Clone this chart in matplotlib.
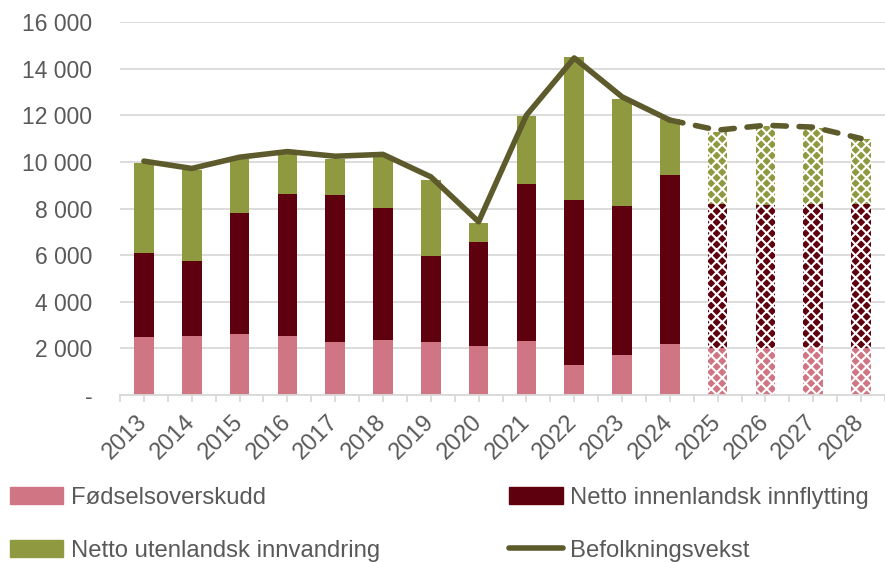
import numpy as np
import matplotlib
matplotlib.use("Agg")
import matplotlib.pyplot as plt
from matplotlib.patches import Patch
from matplotlib.lines import Line2D

plt.rcParams['font.family'] = ['Liberation Sans', 'DejaVu Sans']
plt.rcParams['hatch.linewidth'] = 1.5

years = [str(y) for y in range(2013, 2029)]
# stacked components (persons)
fodselsoverskudd = [2500, 2545, 2600, 2545, 2260, 2360, 2290, 2100,
                    2317, 1290, 1716, 2200, 2030, 2030, 2070, 2030]
innenlandsk = [3590, 3190, 5220, 6095, 6335, 5650, 3690, 4480,
               6750, 7080, 6380, 7240, 6190, 6120, 6125, 6190]
utenlandsk = [3850, 3915, 2330, 1730, 1555, 2190, 3245, 800,
              2917, 6130, 4600, 2390, 3075, 3390, 3275, 2750]
befolkningsvekst = [10040, 9725, 10210, 10450, 10250, 10330, 9367, 7437,
                    12010, 14470, 12800, 11800, 11370, 11580, 11500, 11010]
n_hist = 12  # 2013-2024 faktiske tall, 2025-2028 framskriving

c_pink = '#CF7583'
c_dark = '#5E000E'
c_green = '#8F9A40'
c_line = '#5D5A2C'
c_text = '#595959'

fig = plt.figure(figsize=(8.85, 5.62), dpi=100)
ax = fig.add_axes([0.1356, 0.2972, 0.8644, 0.6631])

x = np.arange(len(years))
w = 0.41
bottom = np.zeros(len(years))
for vals, col in [(fodselsoverskudd, c_pink), (innenlandsk, c_dark), (utenlandsk, c_green)]:
    vals = np.array(vals, dtype=float)
    ax.bar(x[:n_hist], vals[:n_hist], w, bottom=bottom[:n_hist], color=col, linewidth=0, zorder=2)
    ax.bar(x[n_hist:], vals[n_hist:], w, bottom=bottom[n_hist:], facecolor=col,
           edgecolor='white', hatch='xxx', linewidth=0, zorder=2)
    bottom += vals

ax.plot(x[:n_hist], befolkningsvekst[:n_hist], color=c_line, lw=4,
        solid_joinstyle='round', solid_capstyle='round', zorder=3)
ax.plot(x[n_hist - 1:], befolkningsvekst[n_hist - 1:], color=c_line, lw=4,
        linestyle=(0, (2.4, 2.3)), dash_capstyle='round', zorder=3)

ax.set_xlim(-0.5, len(years) - 0.5)
ax.set_ylim(0, 16000)
yt = np.arange(0, 16001, 2000)
ax.set_yticks(yt)
ax.set_yticklabels(['-'] + [f"{v:,}".replace(',', ' ') for v in yt[1:]])
ax.yaxis.grid(True, color='#D9D9D9', lw=1.3, zorder=0)
ax.set_axisbelow(True)

ax.set_xticks(np.arange(-0.5, len(years), 1.0))
ax.set_xticklabels([])
ax.set_xticks(x, minor=True)
ax.set_xticklabels(years, minor=True, rotation=45, ha='right', va='center',
                   rotation_mode='anchor')
ax.tick_params(axis='x', which='both', length=5, color='#D9D9D9', width=1.3,
               labelsize=17, labelcolor=c_text, pad=12)
ax.tick_params(axis='y', length=0, labelsize=16.5, labelcolor=c_text, pad=20)

for s in ['top', 'right', 'left']:
    ax.spines[s].set_visible(False)
ax.spines['bottom'].set_color('#D9D9D9')
ax.spines['bottom'].set_linewidth(1.3)

handles = [Patch(color=c_pink), Patch(color=c_green), Patch(color=c_dark),
           Line2D([], [], color=c_line, lw=4, solid_capstyle='round')]
labels = ['Fødselsoverskudd', 'Netto utenlandsk innvandring',
          'Netto innenlandsk innflytting', 'Befolkningsvekst']
fig.legend(handles, labels, ncol=2, loc='upper left', bbox_to_anchor=(0.011, 0.134),
           frameon=False, fontsize=17.2, labelcolor=c_text, handlelength=2.25,
           handleheight=0.7, handletextpad=0.3, columnspacing=5.4, labelspacing=1.3,
           borderaxespad=0, borderpad=0)

fig.savefig('out.png', dpi=100)
